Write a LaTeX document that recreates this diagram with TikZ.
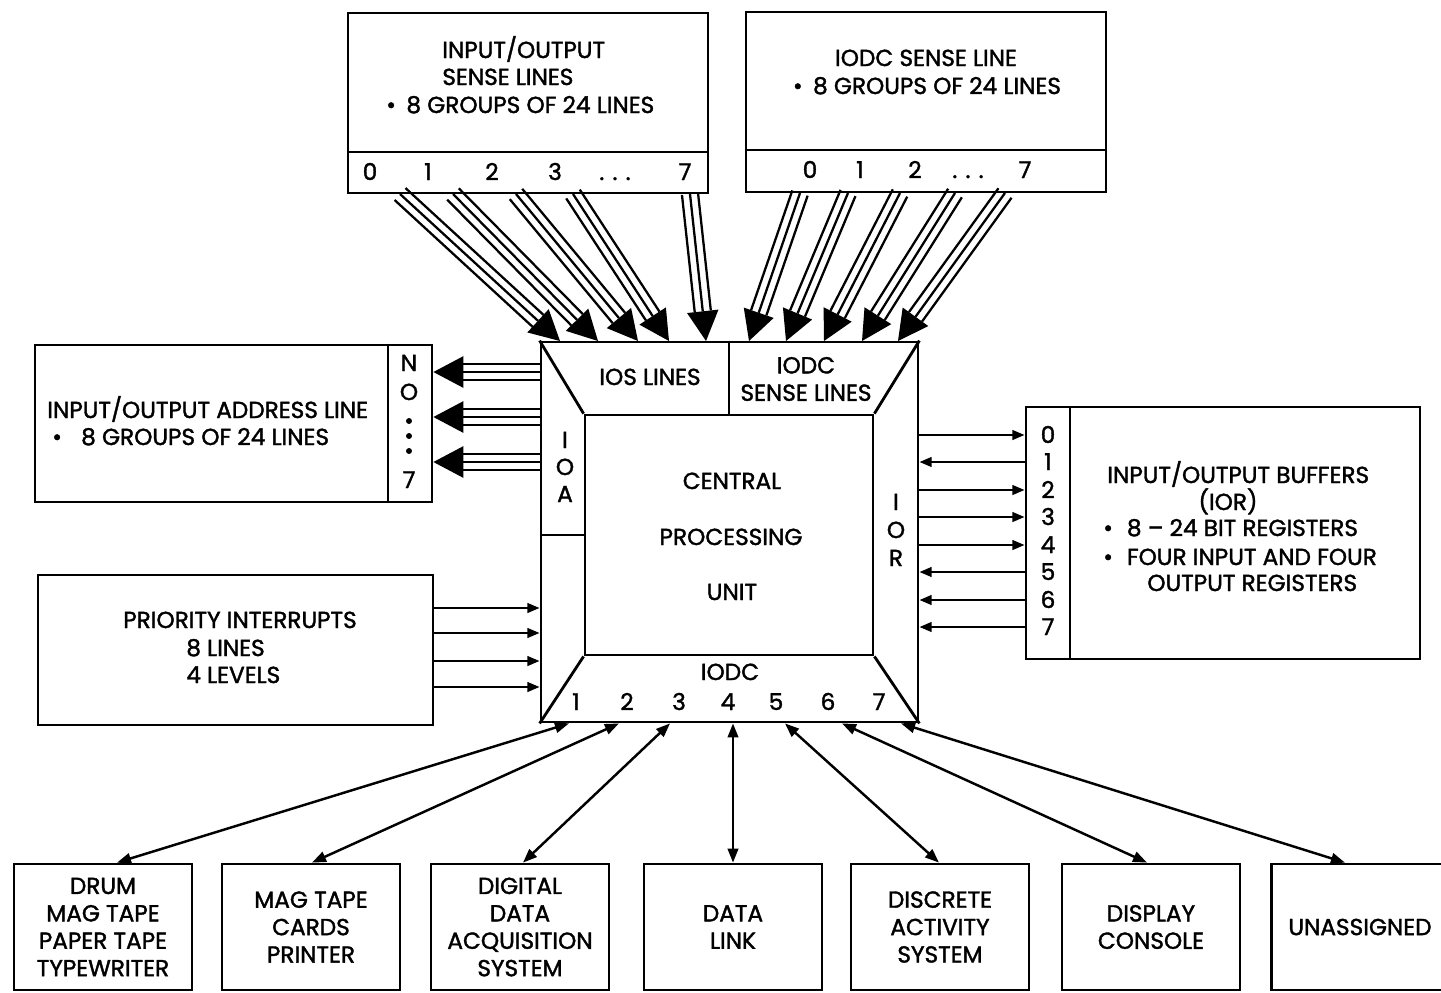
\documentclass[tikz,border=0pt]{standalone}
\usepackage{fontspec}
\setmainfont{Poppins}[FakeBold=1.6]
\usetikzlibrary{arrows.meta,calc,fit}
\tikzset{
  box/.style={draw, line width=1.6pt, inner sep=0pt},
  edge/.style={line width=1.6pt},
  wire/.style={line width=1.3pt},
  lbl/.style={anchor=base, inner sep=0pt},
  lblw/.style={anchor=base west, inner sep=0pt},
  sig/.style={line width=1.3pt, -{Triangle[length=7pt,width=5.5pt]}},
  link/.style={line width=1.4pt, {Triangle[length=8pt,width=6pt]}-{Triangle[length=8pt,width=6pt]}},
  unitbox/.style={box, minimum width=178*0.02cm, minimum height=126*0.02cm, align=center},
}
% a bundle of three parallel lines ending in one large arrowhead
\newcommand\bundle[2]{%
  \coordinate (bb) at ($(#2)!17pt!(#1)$);
  \draw[wire] (#1) -- (bb);
  \draw[wire] ($(#1)!4.6pt!90:(#2)$) -- ($(bb)!4.6pt!-90:(#1)$);
  \draw[wire] ($(#1)!4.6pt!-90:(#2)$) -- ($(bb)!4.6pt!90:(#1)$);
  \fill ($(bb)!9pt!90:(#1)$) -- (#2) -- ($(bb)!9pt!-90:(#1)$) -- cycle;
}
\begin{document}
\begin{tikzpicture}[x=0.02cm, y=-0.02cm, font=\fontsize{13.2}{15.6}\selectfont]
\useasboundingbox (0,0) rectangle (1441,992);

% ---------- I/O sense lines ----------
\node[box, fit={(348,13) (708,193)}] (ios) {};
\draw[edge] (ios.west |- 0,152) -- (ios.east |- 0,152);
\node[lblw] (ios1) at (442,58) {INPUT/OUTPUT};
\node[lblw] (ios2) at (442,85) {SENSE LINES};
\node[lblw] (ios3) at (386,113) {•\hspace{6pt}8 GROUPS OF 24 LINES};
\foreach \x/\t [count=\i] in {370/0, 428/1, 492/2, 555/3, 615/{. . .}, 685/7}
  \node[lbl] (iosn\i) at (\x,180) {\t};

% ---------- IODC sense lines ----------
\node[box, fit={(746,12) (1106,192)}] (sns) {};
\draw[edge] (sns.west |- 0,150) -- (sns.east |- 0,150);
\node[lbl] (sns1) at (926,66) {IODC SENSE LINE};
\node[lbl] (sns2) at (927,94) {•\hspace{6pt}8 GROUPS OF 24 LINES};
\foreach \x/\t [count=\i] in {810/0, 860/1, 915/2, 968/{. . .}, 1025/7}
  \node[lbl] (snsn\i) at (\x,178) {\t};

% ---------- central processing unit ----------
\node[box, fit={(541,342) (918,722)}] (cpu) {};
\node[box, fit={(585,415) (873,655)}] (core) {};
\draw[edge] (cpu.north west) -- (core.north west);
\draw[edge] (cpu.north east) -- (core.north east);
\draw[edge] (cpu.south west) -- (core.south west);
\draw[edge] (cpu.south east) -- (core.south east);
\draw[edge] (729,0 |- cpu.north) -- (729,0 |- core.north);
\draw[edge] (cpu.west |- 0,535) -- (core.west |- 0,535);
\node[lbl] (iosl) at (650,385) {IOS LINES};
\node[align=center, inner sep=0pt] (iodcs) at (806,379) {IODC\\SENSE LINES};
\node[lbl] (c1) at (732,489) {CENTRAL};
\node[lbl] (c2) at (731,545) {PROCESSING};
\node[lbl] (c3) at (732,600) {UNIT};
\foreach \y/\t [count=\i] in {448/I, 475/O, 502/A}
  \node[lbl] (ioa\i) at (565,\y) {\t};
\foreach \y/\t [count=\i] in {510/I, 538/O, 566/R}
  \node[lbl] (ior\i) at (896,\y) {\t};
\node[lbl] (iodc) at (730,680) {IODC};
\foreach \x [count=\i] in {576,627,679,728,776,828,879}
  \node[lbl] (ch\i) at (\x,710) {\i};

% ---------- sense line bundles into the CPU ----------
\foreach \sx/\tx [count=\i] in {400/560, 453/598, 516/638, 573/669, 690/706}{
  \coordinate (sa\i) at (\sx,194);
  \coordinate (ta\i) at (\tx,341);
  \bundle{sa\i}{ta\i}
}
\foreach \sx/\tx [count=\i] in {800/749, 848/786, 900/824, 955/862, 1005/898}{
  \coordinate (sb\i) at (\sx,193);
  \coordinate (tb\i) at (\tx,341);
  \bundle{sb\i}{tb\i}
}

% ---------- I/O address lines ----------
\node[box, fit={(35,345) (432,502)}] (adr) {};
\draw[edge] (388,0 |- adr.north) -- (388,0 |- adr.south);
\node[lblw] (adr1) at (47,418) {INPUT/OUTPUT ADDRESS LINE};
\node[lblw] (adr2) at (52,445) {•\hspace{11pt}8 GROUPS OF 24 LINES};
\node[lbl] (adrn) at (409,371) {N};
\node[lbl] (adro) at (409,400) {O};
\foreach \y [count=\i] in {421,436,451}
  \fill (409,\y) circle (1.7pt) coordinate (adrd\i);
\node[lbl] (adr7) at (409,488) {7};
\foreach \y [count=\i] in {372,417,462}{
  \coordinate (sc\i) at (cpu.west |- 0,\y);
  \coordinate (tc\i) at (adr.east |- 0,\y);
  \bundle{sc\i}{tc\i}
}

% ---------- priority interrupts ----------
\node[box, fit={(38,575) (433,725)}] (pri) {};
\node[lbl] (pri1) at (240,628) {PRIORITY INTERRUPTS};
\node[lblw] (pri2) at (186,656) {8 LINES};
\node[lblw] (pri3) at (186,683) {4 LEVELS};
\foreach \y in {608,633,661,687}
  \draw[sig] (pri.east |- 0,\y) -- (cpu.west |- 0,\y);

% ---------- I/O buffers ----------
\node[box, fit={(1026,407) (1420,659)}] (buf) {};
\draw[edge] (1070,0 |- buf.north) -- (1070,0 |- buf.south);
\foreach \y [count=\i from 0] in {435,462,490,517,545,572,600,627}
  \node[lbl] (bufn\i) at (1048,\y+8) {\i};
\node[lblw] (buf1) at (1107,483) {INPUT/OUTPUT BUFFERS};
\node[lbl] (buf2) at (1228,510) {(IOR)};
\node[lblw] (buf3) at (1103,536) {•\hspace{8pt}8 -- 24 BIT REGISTERS};
\node[lblw] (buf4) at (1103,565) {•\hspace{8pt}FOUR INPUT AND FOUR};
\node[lblw] (buf5) at (1147,591) {OUTPUT REGISTERS};
\foreach \y in {435,490,517,545}
  \draw[sig] (cpu.east |- 0,\y) -- (buf.west |- 0,\y);
\foreach \y in {462,572,600,627}
  \draw[sig] (buf.west |- 0,\y) -- (cpu.east |- 0,\y);

% ---------- IODC channel devices ----------
\node[unitbox] (d1) at (103,927) {DRUM\\MAG TAPE\\PAPER TAPE\\TYPEWRITER};
\node[unitbox] (d2) at (311,927) {MAG TAPE\\CARDS\\PRINTER};
\node[unitbox] (d3) at (520,927) {DIGITAL\\DATA\\ACQUISITION\\SYSTEM};
\node[unitbox] (d4) at (733,927) {DATA\\LINK};
\node[unitbox] (d5) at (940,927) {DISCRETE\\ACTIVITY\\SYSTEM};
\node[unitbox] (d6) at (1151,927) {DISPLAY\\CONSOLE};
\node[box, minimum width=182*0.02cm, minimum height=126*0.02cm, anchor=west] (d7) at (1270,927) {};
\node (d7t) at (1360,927) {UNASSIGNED};

\foreach \bx/\cx [count=\i] in {117/569, 312/619, 523/670, 733/733, 939/785, 1147/842, 1345/901}{
  \draw[link] (\bx,0 |- d\i.north) -- (\cx,0 |- cpu.south);
}
\end{tikzpicture}
\end{document}
